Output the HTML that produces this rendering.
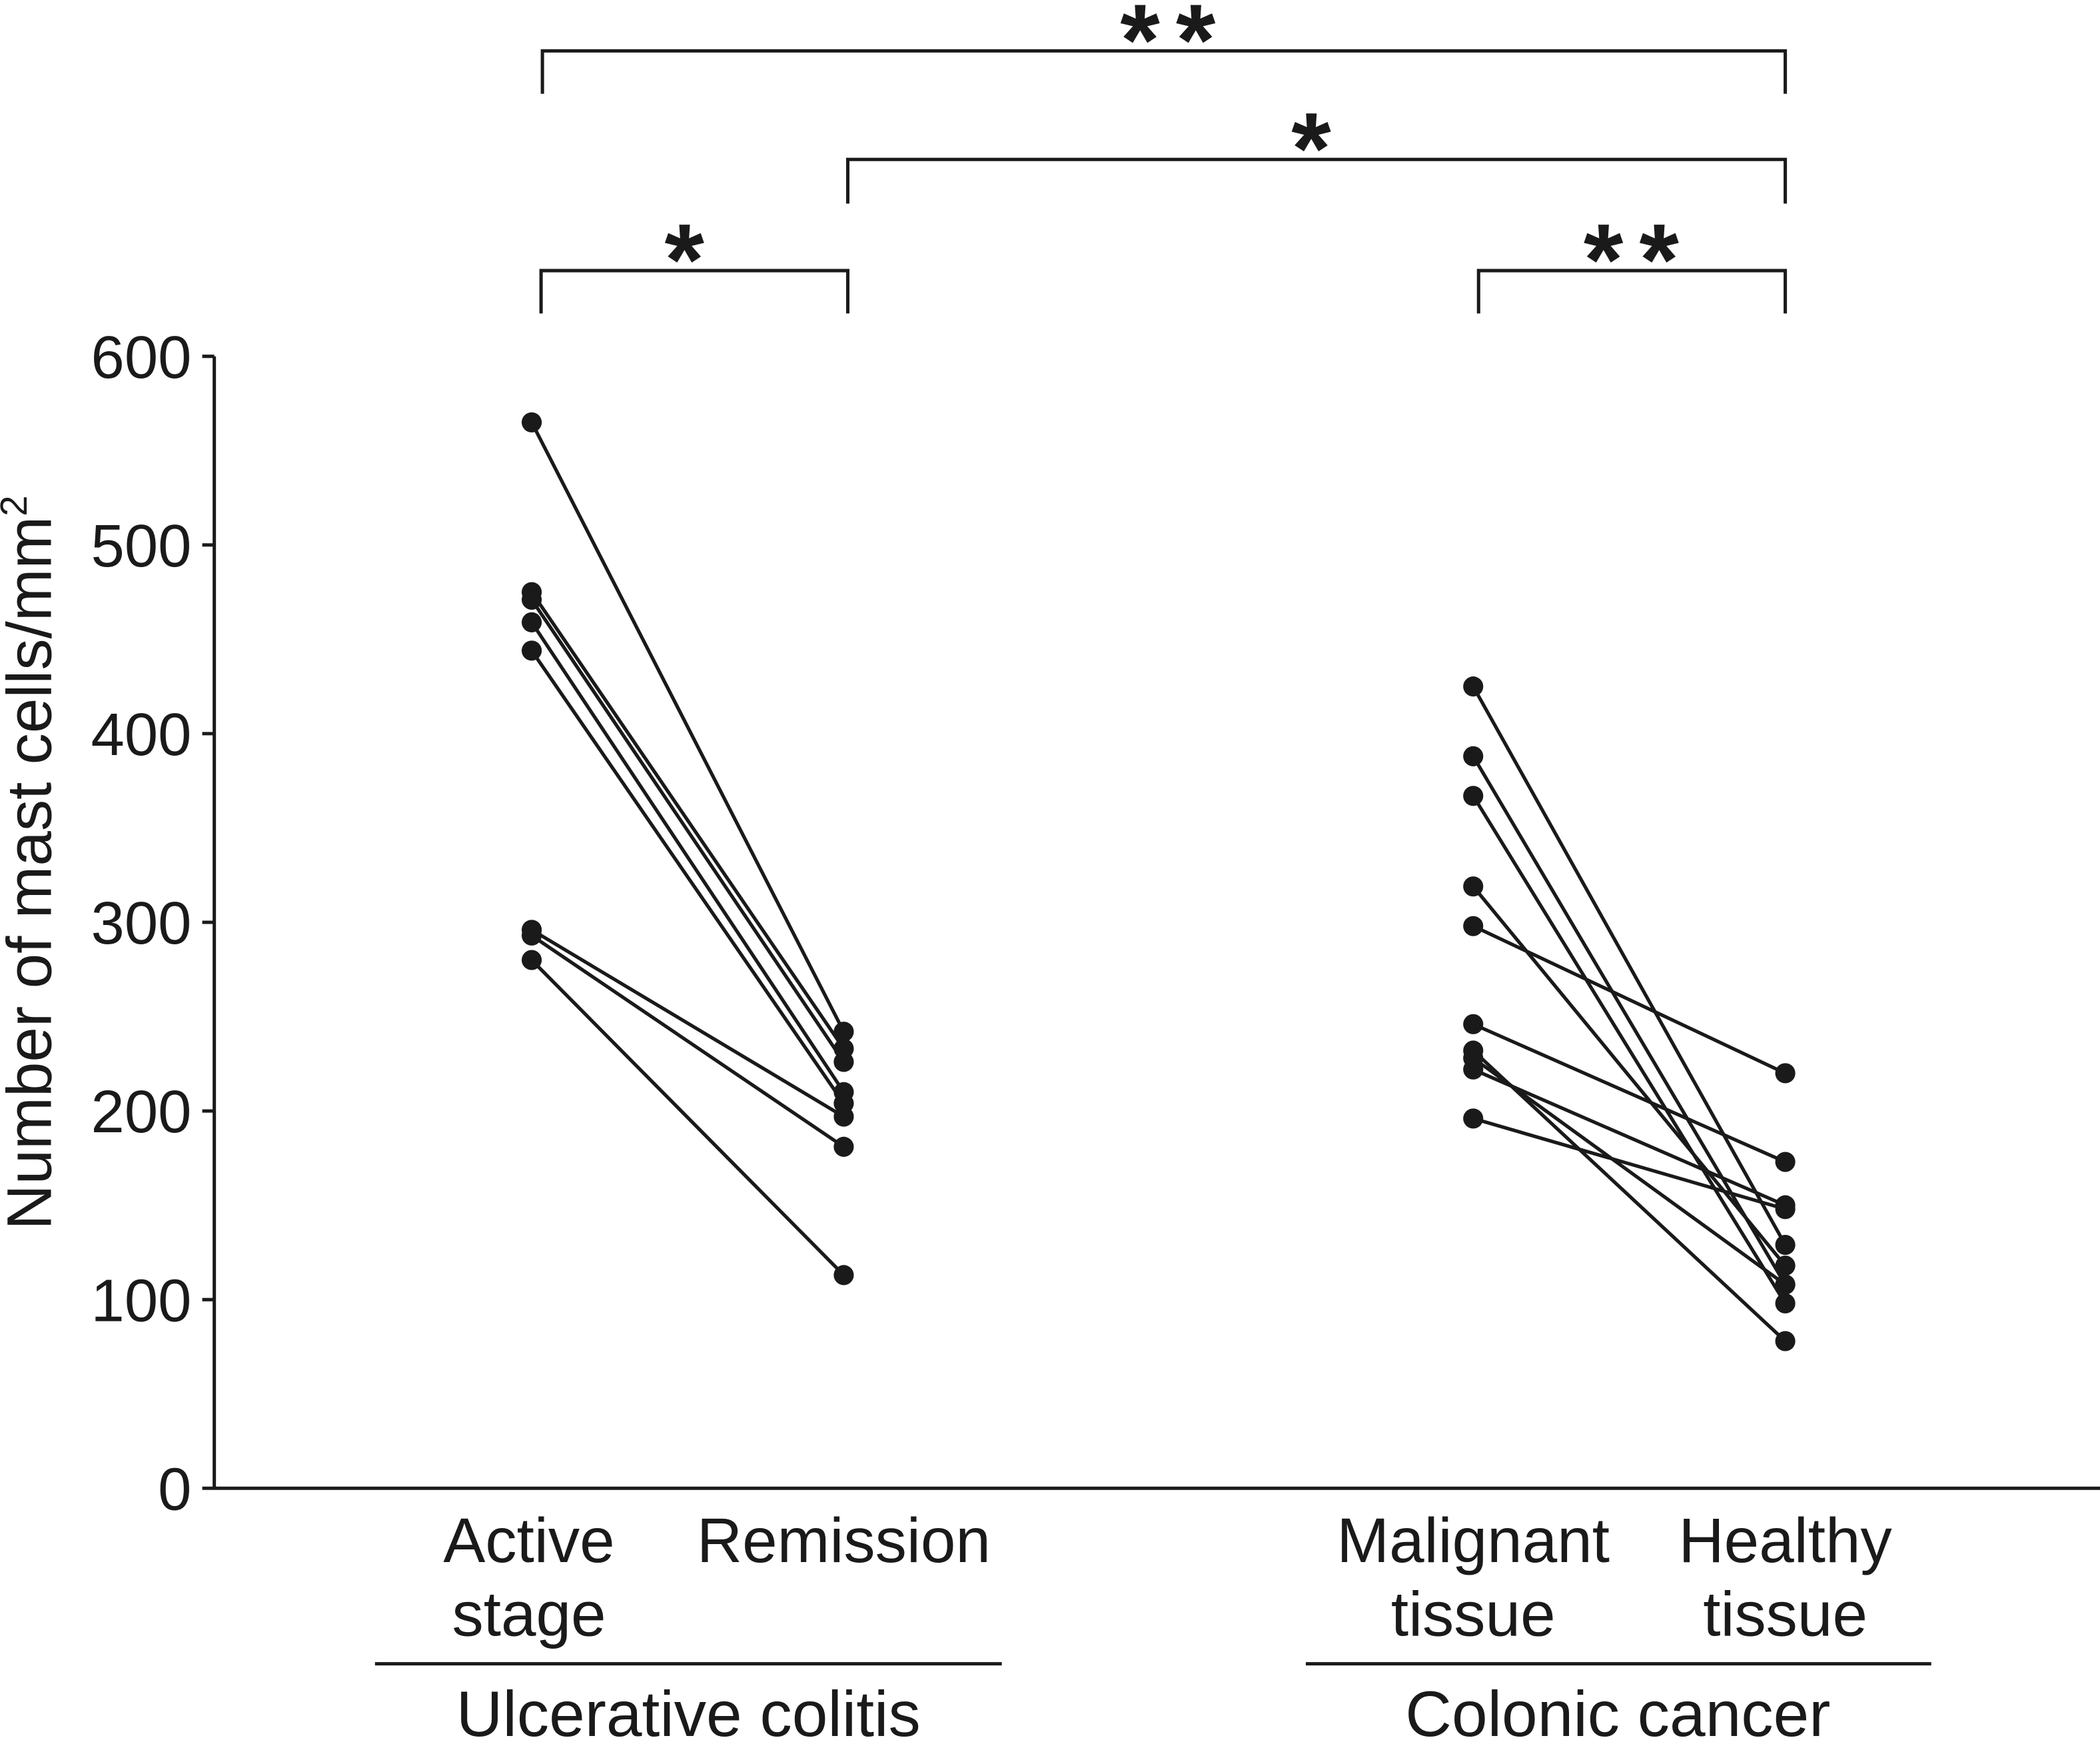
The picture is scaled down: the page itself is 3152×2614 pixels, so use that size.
<!DOCTYPE html>
<html><head><meta charset="utf-8"><style>
html,body{margin:0;padding:0;background:#fff;}
svg{display:block;}
text{font-family:"Liberation Sans",sans-serif;fill:#1a1a1a;}
</style></head><body>
<svg id="chart" width="3152" height="2614" viewBox="0 0 1568 1300.4" preserveAspectRatio="none" xmlns="http://www.w3.org/2000/svg">
<g id="axes"></g>
<g id="marks"></g>
<g id="ann"></g>
</svg>
<script>
const yTicks = [0,100,200,300,400,500,600];
const categories = ["Active stage","Remission","Malignant tissue","Healthy tissue"];
const ucActive = [565,475,471,459,444,296,293,280];
const ucRemission = [242,233,226,210,204,197,181,113];
const ccMalignant = [425,388,367,319,298,246,232,228,222,196];
const ccHealthy = [129,108,98,118,220,173,78,108,150,148];

const NS="http://www.w3.org/2000/svg";
const catX=[395,630,1100,1333];
function y(v){return 1111 - v*(845/600);}
function mk(parent,tag,attrs,text){const e=document.createElementNS(NS,tag);for(const k in attrs)e.setAttribute(k,attrs[k]);if(text!==undefined)e.textContent=text;document.getElementById(parent).appendChild(e);return e;}
const S="#1a1a1a";
let e=mk('axes','line',{x1:160,y1:266,x2:160,y2:1111,stroke:S,'stroke-width':2.5});

e=mk('axes','line',{x1:160,y1:1111,x2:1568,y2:1111,stroke:S,'stroke-width':2.5});

yTicks.forEach(t=>{
 let l=mk('axes','line',{x1:151,y1:y(t),x2:160,y2:y(t),stroke:S,'stroke-width':2.5});
 
 let tx=mk('axes','text',{x:143,y:y(t)+16,'text-anchor':'end','font-size':45},String(t));
 
});
e=mk('axes','text',{x:0,y:0,'text-anchor':'middle','font-size':47,transform:'translate(38,644) rotate(-90)'},'Number of mast cells/mm');

let sup=document.createElementNS(NS,'tspan');sup.setAttribute('font-size',28);sup.setAttribute('dy',-18);sup.textContent='2';e.appendChild(sup);
const lab=[["Active","stage"],["Remission"],["Malignant","tissue"],["Healthy","tissue"]];
lab.forEach((ls,i)=>{ls.forEach((s,j)=>{
 let t=mk('axes','text',{x:catX[i],y:1166+j*55,'text-anchor':'middle','font-size':47},s);
 
});});
[[280,748,"Ulcerative colitis",514],[975,1442,"Colonic cancer",1208]].forEach(g=>{
 let l=mk('axes','line',{x1:g[0],y1:1242,x2:g[1],y2:1242,stroke:S,'stroke-width':2.5});
 
 let t=mk('axes','text',{x:g[3],y:1296,'text-anchor':'middle','font-size':48},g[2]);
 
});
function pairs(a,b,x1,x2,name){
 a.forEach((v,i)=>{
  let l=mk('marks','line',{x1:x1,y1:y(v),x2:x2,y2:y(b[i]),stroke:S,'stroke-width':2.6});
  
  let c1=mk('marks','circle',{cx:x1,cy:y(v),r:7.5,fill:S});
  
  let c2=mk('marks','circle',{cx:x2,cy:y(b[i]),r:7.5,fill:S});
  
 });
}
pairs(ucActive,ucRemission,catX[0]+2,catX[1],'uc');
pairs(ccMalignant,ccHealthy,catX[2],catX[3],'cc');
function bracket(x1,x2,yt,yb,label,lx){
 let p=mk('ann','path',{d:`M${x1} ${yb} V${yt} H${x2} V${yb}`,fill:'none',stroke:S,'stroke-width':2.5});
 
 let t=mk('ann','text',{x:lx,y:yt+18,'text-anchor':'middle','font-size':76,'font-weight':'bold','letter-spacing':12},label);
 
}
bracket(405,1333,38,70,'**',878);
bracket(633,1333,119,152,'*',985);
bracket(404,633,202,234,'*',517);
bracket(1104,1333,202,234,'**',1224);
</script>
</body></html>
